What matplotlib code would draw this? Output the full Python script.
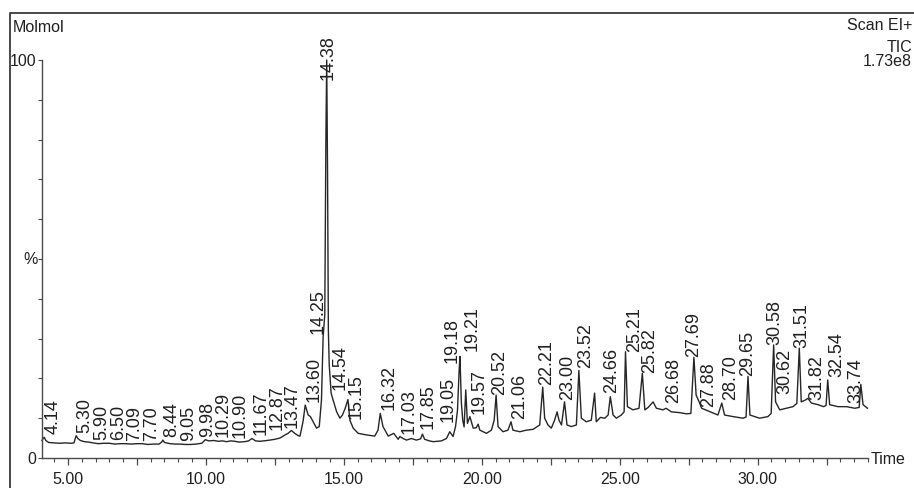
import matplotlib

matplotlib.use("Agg")
import matplotlib.pyplot as plt
import numpy as np
from matplotlib.lines import Line2D
from matplotlib.ticker import FixedLocator, FuncFormatter

W, H = 914, 488
NARROW = ["Liberation Sans Narrow", "Liberation Sans", "DejaVu Sans"]
REGULAR = ["Liberation Sans", "DejaVu Sans"]
INK = "#202020"

# TIC trace: retention time (min) and relative abundance (%)
TRACE_TIME = [
    4.06, 4.10, 4.14, 4.20, 4.30, 4.50, 4.70, 4.90, 5.10, 5.22,
    5.27, 5.30, 5.36, 5.45, 5.60, 5.75, 5.90, 6.10, 6.30, 6.50,
    6.70, 6.90, 7.09, 7.30, 7.50, 7.70, 7.90, 8.10, 8.30, 8.40,
    8.44, 8.50, 8.70, 8.90, 9.05, 9.25, 9.45, 9.65, 9.85, 9.98,
    10.10, 10.29, 10.45, 10.60, 10.75, 10.90, 11.05, 11.20, 11.40, 11.55,
    11.67, 11.80, 11.95, 12.10, 12.32, 12.50, 12.68, 12.87, 12.98, 13.10,
    13.22, 13.35, 13.41, 13.47, 13.53, 13.60, 13.71, 13.79, 13.89, 14.01,
    14.11, 14.19, 14.25, 14.31, 14.35, 14.38, 14.41, 14.44, 14.47, 14.54,
    14.61, 14.74, 14.86, 14.95, 15.05, 15.15, 15.22, 15.34, 15.52, 15.82,
    16.12, 16.24, 16.32, 16.42, 16.61, 16.81, 16.97, 17.03, 17.15, 17.27,
    17.45, 17.63, 17.78, 17.85, 17.93, 18.10, 18.24, 18.40, 18.54, 18.72,
    18.84, 18.96, 19.05, 19.12, 19.18, 19.21, 19.26, 19.31, 19.36, 19.42,
    19.48, 19.57, 19.69, 19.80, 19.87, 19.93, 20.05, 20.17, 20.35, 20.45,
    20.52, 20.59, 20.77, 20.95, 21.06, 21.13, 21.38, 21.62, 21.86, 22.10,
    22.21, 22.28, 22.40, 22.52, 22.64, 22.73, 22.80, 22.89, 23.00, 23.09,
    23.25, 23.43, 23.52, 23.61, 23.79, 23.97, 24.09, 24.15, 24.30, 24.46,
    24.58, 24.66, 24.76, 24.88, 25.06, 25.16, 25.21, 25.28, 25.48, 25.70,
    25.82, 25.91, 26.03, 26.21, 26.33, 26.57, 26.68, 26.87, 27.17, 27.42,
    27.58, 27.69, 27.77, 27.88, 27.97, 28.28, 28.56, 28.70, 28.80, 29.11,
    29.47, 29.58, 29.65, 29.72, 30.07, 30.37, 30.49, 30.58, 30.65, 30.80,
    31.04, 31.28, 31.42, 31.51, 31.58, 31.74, 31.82, 31.95, 32.19, 32.39,
    32.48, 32.54, 32.61, 32.91, 33.22, 33.52, 33.68, 33.74, 33.82, 33.98,
]
TRACE_PCT = [
    4.4, 4.9, 5.2, 4.4, 3.9, 3.8, 3.7, 3.8, 3.7, 3.8,
    5.0, 5.6, 4.9, 4.4, 4.1, 4.0, 3.8, 3.6, 3.7, 3.7,
    3.5, 3.6, 3.6, 3.5, 3.6, 3.6, 3.4, 3.5, 3.5, 4.0,
    4.5, 3.9, 3.6, 3.5, 3.5, 3.4, 3.4, 3.5, 3.7, 4.6,
    4.3, 4.4, 4.2, 4.3, 4.1, 4.3, 4.2, 4.0, 4.1, 4.3,
    4.9, 4.3, 4.2, 4.3, 4.5, 4.7, 5.0, 5.8, 6.2, 6.9,
    6.2, 5.6, 5.5, 7.4, 9.5, 13.3, 10.8, 10.4, 9.1, 7.5,
    7.9, 14.6, 30.5, 36.0, 80.0, 100.0, 72.0, 32.0, 23.5, 16.3,
    14.6, 11.6, 10.0, 10.8, 12.5, 14.7, 9.5, 7.5, 6.2, 5.8,
    5.5, 7.0, 11.2, 7.9, 5.5, 6.2, 4.7, 5.4, 4.9, 4.5,
    4.9, 4.5, 4.8, 6.0, 4.7, 4.3, 4.1, 4.2, 4.3, 4.9,
    6.6, 5.4, 7.9, 12.0, 22.0, 25.5, 14.0, 9.5, 7.8, 17.1,
    8.7, 10.4, 7.5, 7.6, 8.5, 7.0, 6.6, 6.2, 7.0, 9.5,
    15.8, 7.9, 6.6, 7.0, 9.1, 7.0, 6.6, 7.0, 7.2, 8.3,
    17.8, 10.0, 8.3, 7.5, 9.5, 11.6, 9.5, 8.3, 14.1, 8.3,
    7.9, 8.3, 22.0, 10.0, 9.1, 9.5, 16.3, 9.1, 10.2, 10.0,
    10.8, 15.4, 10.8, 10.0, 10.8, 11.6, 26.7, 12.9, 12.1, 12.5,
    21.3, 12.1, 12.7, 14.1, 12.5, 12.1, 12.5, 11.6, 11.4, 11.1,
    11.2, 25.3, 15.8, 14.1, 12.5, 11.6, 10.8, 13.8, 10.8, 10.4,
    10.0, 10.3, 20.5, 10.8, 10.0, 10.4, 11.2, 28.4, 14.1, 12.1,
    12.5, 12.9, 13.7, 27.6, 14.1, 14.6, 15.0, 13.8, 13.4, 12.9,
    13.2, 19.6, 13.4, 12.9, 12.9, 12.5, 12.7, 18.5, 13.4, 12.5,
]

# integrated peaks, labelled with their retention time
PEAK_LABELS = [
    "4.14", "5.30", "5.90", "6.50", "7.09", "7.70", "8.44", "9.05", "9.98",
    "10.29", "10.90", "11.67", "12.87", "13.47", "13.60", "14.25", "14.38",
    "14.54", "15.15", "16.32", "17.03", "17.85", "19.05", "19.18", "19.21",
    "19.57", "20.52", "21.06", "22.21", "23.00", "23.52", "24.66", "25.21",
    "25.82", "26.68", "27.69", "27.88", "28.70", "29.65", "30.58", "30.62",
    "31.51", "31.82", "32.54", "33.74",
]

SAMPLE = "Molmol"
SCAN_INFO = ["Scan EI+", "TIC", "1.73e8"]

# label offsets in pixels from the apex (dx to label centre, dy to its base)
LABEL_DX, LABEL_DY = 9, 3
LABEL_NUDGE = {
    "9.98": (2, 3),
    "12.87": (-8, 5),
    "13.47": (-9, 1),
    "14.25": (-5, 3),
    "14.38": (1, -20),
    "15.15": (8, -20),
    "17.85": (6, 5),
    "19.05": (-7, 5),
    "19.18": (-7, 7),
    "19.21": (12, 6),
    "20.52": (4, 0),
    "22.21": (4, 2),
    "23.00": (3, 2),
    "23.52": (7, 2),
    "24.66": (1, 4),
    "25.21": (9, 0),
    "25.82": (7, 0),
    "26.68": (8, 5),
    "27.69": (0, 0),
    "27.88": (9, -5),
    "29.65": (0, 0),
    "30.58": (1, 0),
    "30.62": (10, -17),
    "31.51": (3, 0),
    "31.82": (9, -2),
    "33.74": (-5, -19),
}


def fx(px):
    return px / W


def fy(py):
    return 1 - py / H


fig = plt.figure(figsize=(W / 100, H / 100), dpi=100)
fig.patch.set_facecolor("white")
ax = fig.add_axes([fx(42), fy(458), (868 - 42) / W, (458 - 60) / H])
ax.set_facecolor("none")

ax.plot(TRACE_TIME, TRACE_PCT, color="#262626", linewidth=1.0, clip_on=False)

for lab in PEAK_LABELS:
    rt = float(lab)
    top = np.interp(rt, TRACE_TIME, TRACE_PCT)
    dx, dy = LABEL_NUDGE.get(lab, (LABEL_DX, LABEL_DY))
    ax.annotate(
        lab,
        xy=(rt, top),
        xytext=(dx, dy),
        textcoords="offset pixels",
        rotation=90,
        ha="center",
        va="bottom",
        fontsize=13,
        family=REGULAR,
        color=INK,
        annotation_clip=False,
    )

ax.set_xlim(4.06, 34.0)
ax.set_ylim(0, 100)
for side in ("top", "right"):
    ax.spines[side].set_visible(False)
for side in ("left", "bottom"):
    ax.spines[side].set_color("#4a4a4a")
    ax.spines[side].set_linewidth(1.0)

ax.xaxis.set_major_locator(FixedLocator(np.arange(5, 34, 2.5)))
ax.xaxis.set_minor_locator(FixedLocator(np.arange(4.5, 34.01, 0.5)))
ax.xaxis.set_major_formatter(
    FuncFormatter(lambda v, _: f"{v:.2f}" if abs(v / 5 - round(v / 5)) < 1e-6 else "")
)
ax.yaxis.set_major_locator(FixedLocator([0, 100]))
ax.yaxis.set_minor_locator(FixedLocator(np.arange(10, 100, 10)))
ax.yaxis.set_major_formatter(FuncFormatter(lambda v, _: f"{v:.0f}"))

ax.tick_params(axis="x", which="major", length=5, width=0.9, pad=5, color="#4a4a4a")
ax.tick_params(axis="x", which="minor", length=3, width=0.8, color="#4a4a4a")
ax.tick_params(axis="y", which="both", length=3, width=0.8, pad=1, color="#4a4a4a")
for lbl in ax.get_xticklabels() + ax.get_yticklabels():
    lbl.set_family(NARROW)
    lbl.set_fontsize(11.5)
    lbl.set_color(INK)

fig.text(fx(13), fy(27), SAMPLE, ha="left", va="center", family=NARROW, fontsize=11.5, color=INK)
fig.text(fx(38), fy(260), "%", ha="right", va="center", family=NARROW, fontsize=11.5, color=INK)
fig.text(fx(871), fy(459), "Time", ha="left", va="center", family=NARROW, fontsize=11.5, color=INK)
for line, ypix in zip(SCAN_INFO, (26, 47, 61)):
    fig.text(fx(912), fy(ypix), line, ha="right", va="center", family=NARROW, fontsize=11.5, color=INK)

# outer frame of the report page
fig.add_artist(
    Line2D(
        [fx(10), fx(10), fx(920)],
        [fy(495), fy(13), fy(13)],
        transform=fig.transFigure,
        color="#3a3a3a",
        linewidth=1.3,
    )
)

fig.savefig("out.png", dpi=100)
